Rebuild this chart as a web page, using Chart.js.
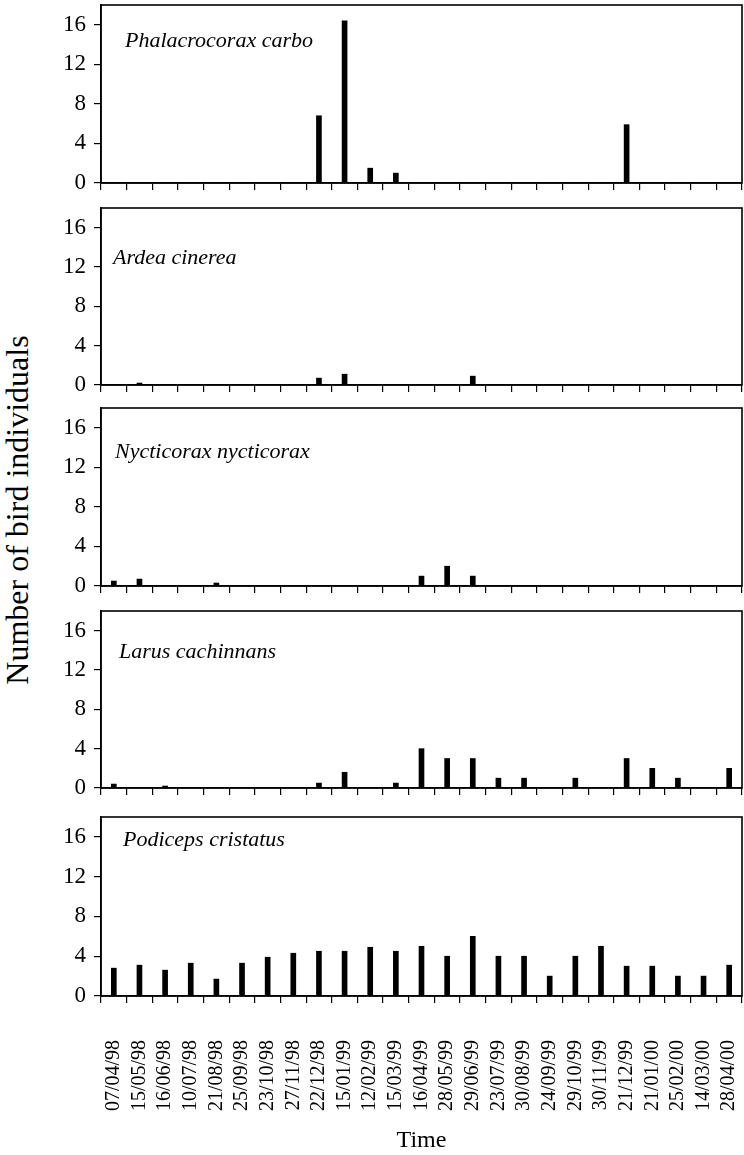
<!DOCTYPE html>
<html>
<head>
<meta charset="utf-8">
<script src="https://cdn.jsdelivr.net/npm/chart.js@4.4.1/dist/chart.umd.min.js"></script>
<style>
  html, body { margin: 0; padding: 0; background: #fff; }
  #wrap { position: relative; width: 744px; height: 1155px; overflow: hidden; background: #fff; }
  #wrap canvas { position: absolute; left: 0; }
  #ytitle {
    position: absolute; left: 17px; top: 510px;
    transform: translate(-50%, -50%) rotate(-90deg);
    font-family: 'Liberation Serif', 'Times New Roman', serif;
    font-size: 32px; white-space: nowrap; color: #000;
  }
</style>
</head>
<body>
<div id="wrap">
  <div id="ytitle">Number of bird individuals</div>
</div>
<script>
// sampling dates (x axis)
const dates = ['07/04/98', '15/05/98', '16/06/98', '10/07/98', '21/08/98', '25/09/98',
  '23/10/98', '27/11/98', '22/12/98', '15/01/99', '12/02/99', '15/03/99', '16/04/99',
  '28/05/99', '29/06/99', '23/07/99', '30/08/99', '24/09/99', '29/10/99', '30/11/99',
  '21/12/99', '21/01/00', '25/02/00', '14/03/00', '28/04/00'];

const yTicks = [0, 4, 8, 12, 16];

// number of birds per date, one array per species
const phalacrocorax = [0, 0, 0, 0, 0, 0, 0, 0, 6.8, 16.4, 1.5, 1.0, 0, 0, 0, 0, 0, 0, 0, 0, 5.9, 0, 0, 0, 0];
const ardea = [0, 0.2, 0, 0, 0, 0, 0, 0, 0.7, 1.1, 0, 0, 0, 0, 0.9, 0, 0, 0, 0, 0, 0, 0, 0, 0, 0];
const nycticorax = [0.5, 0.7, 0, 0, 0.3, 0, 0, 0, 0, 0, 0, 0, 1, 2, 1, 0, 0, 0, 0, 0, 0, 0, 0, 0, 0];
const larus = [0.4, 0, 0.2, 0, 0, 0, 0, 0, 0.5, 1.6, 0, 0.5, 4, 3, 3, 1, 1, 0, 1, 0, 3, 2, 1, 0, 2];
const podiceps = [2.8, 3.1, 2.6, 3.3, 1.7, 3.3, 3.9, 4.3, 4.5, 4.5, 4.9, 4.5, 5.0, 4.0, 6.0, 4.0, 4.0, 2.0, 4.0, 5.0, 3.0, 3.0, 2.0, 2.0, 3.1];

const species = ['Phalacrocorax carbo', 'Ardea cinerea', 'Nycticorax nycticorax', 'Larus cachinnans', 'Podiceps cristatus'];
const series = [phalacrocorax, ardea, nycticorax, larus, podiceps];

// panel layout (chart area top/bottom in page px, title offset inside the box)
const panels = [
  { top: 5,   bottom: 183, tx: 24, ty: 36 },
  { top: 208, bottom: 385, tx: 12, ty: 50 },
  { top: 408, bottom: 586, tx: 14, ty: 44 },
  { top: 611, bottom: 788, tx: 18, ty: 41 },
  { top: 817, bottom: 996, tx: 22, ty: 23 }
];

const serif = "'Liberation Serif', 'Times New Roman', serif";

// frame around the plot + species name
const boxPlugin = {
  id: 'box',
  afterDraw(chart, args, opts) {
    const { ctx, chartArea: a } = chart;
    ctx.save();
    ctx.strokeStyle = '#000';
    ctx.lineWidth = 1.6;
    ctx.strokeRect(a.left, a.top, a.right - a.left, a.bottom - a.top);
    ctx.fillStyle = '#000';
    ctx.font = 'italic 22px ' + serif;
    ctx.textBaseline = 'middle';
    ctx.textAlign = 'left';
    ctx.fillText(opts.text, a.left + opts.dx, a.top + opts.dy);
    ctx.restore();
  }
};

const wrap = document.getElementById('wrap');

panels.forEach((p, i) => {
  const last = i === panels.length - 1;
  const padTop = 3;
  const xHeight = last ? 1155 - p.bottom : 12;
  const canvas = document.createElement('canvas');
  canvas.width = 744;
  canvas.height = padTop + (p.bottom - p.top) + xHeight;
  canvas.style.top = (p.top - padTop) + 'px';
  wrap.appendChild(canvas);

  new Chart(canvas.getContext('2d'), {
    type: 'bar',
    data: {
      labels: dates,
      datasets: [{
        label: species[i],
        data: series[i],
        backgroundColor: '#000',
        borderWidth: 0,
        barThickness: 5
      }]
    },
    options: {
      responsive: false,
      animation: false,
      devicePixelRatio: 1,
      layout: { padding: { top: padTop, right: 2, bottom: 0, left: 0 } },
      plugins: {
        legend: { display: false },
        tooltip: { enabled: false },
        box: { text: species[i], dx: p.tx, dy: p.ty }
      },
      scales: {
        x: {
          offset: true,
          afterFit: s => {
            s.height = xHeight;
            s.paddingLeft = 0;
            s.paddingRight = 0;
          },
          grid: { offset: true, drawOnChartArea: false, drawTicks: true, tickLength: 7, color: '#000', lineWidth: 1.2 },
          border: { display: true, color: '#000', width: 1.6 },
          ticks: {
            display: last,
            autoSkip: false,
            minRotation: 90,
            maxRotation: 90,
            padding: 37,
            color: '#000',
            font: { family: serif, size: 20 }
          },
          title: {
            display: last,
            text: 'Time',
            color: '#000',
            font: { family: serif, size: 24 },
            padding: { top: 4, bottom: 0 }
          }
        },
        y: {
          min: 0,
          max: 18,
          afterBuildTicks: s => { s.ticks = yTicks.map(v => ({ value: v })); },
          afterFit: s => {
            s.width = 101;
            s.paddingTop = 0;
            s.paddingBottom = 0;
          },
          grid: { drawOnChartArea: false, drawTicks: true, tickLength: 7, color: '#000', lineWidth: 1.2 },
          border: { display: true, color: '#000', width: 1.6 },
          ticks: {
            padding: 8,
            color: '#000',
            font: { family: serif, size: 23 }
          }
        }
      }
    },
    plugins: [boxPlugin]
  });
});
</script>
</body>
</html>
